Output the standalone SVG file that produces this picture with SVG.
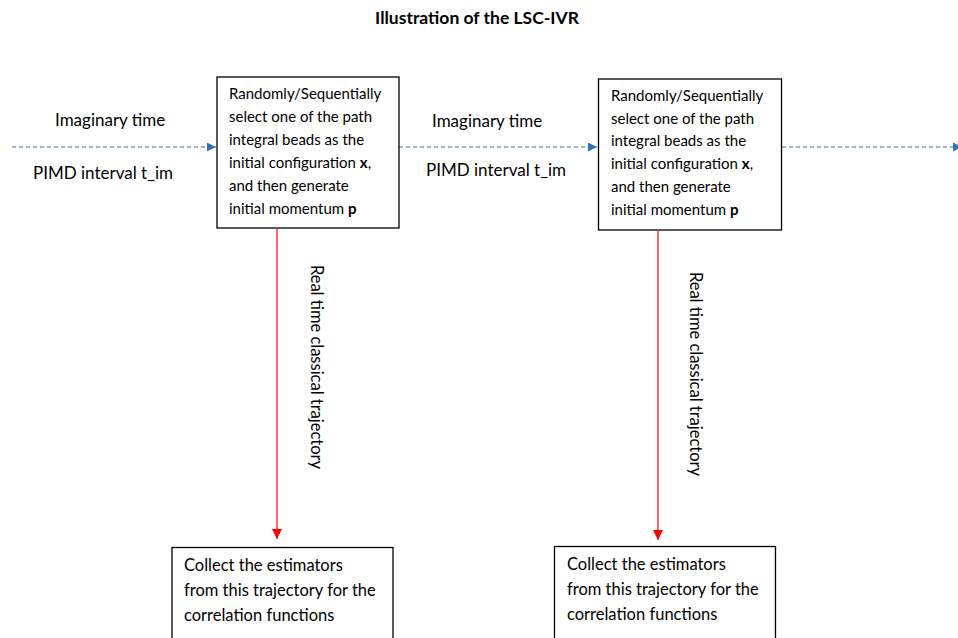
<svg xmlns="http://www.w3.org/2000/svg" width="958" height="638" viewBox="0 0 958 638">
<defs>
<style>
text{font-family:Lato,"Liberation Sans",sans-serif;font-size:15px;fill:#000}
.title{font-weight:bold;font-size:17.5px}
.lbl{font-size:17px}
.bot{font-size:16.5px}
.b{font-weight:bold}
.box{fill:#fff;stroke:#000;stroke-width:1.3}
.dash{stroke:#2E75B6;stroke-width:1.2;stroke-dasharray:4 3;fill:none}
.red{stroke:#FF0000;stroke-width:1.2;fill:none}
</style>
<marker id="ab" viewBox="0 0 10 10" refX="10" refY="5" markerWidth="9" markerHeight="9" markerUnits="userSpaceOnUse" orient="auto">
<path d="M0,0 L10,5 L0,10 z" fill="#2E75B6"/>
</marker>
<marker id="ar" viewBox="0 0 10 10" refX="10" refY="5" markerWidth="10" markerHeight="10" markerUnits="userSpaceOnUse" orient="auto">
<path d="M0,0 L10,5 L0,10 z" fill="#FF0000"/>
</marker>
</defs>
<rect width="958" height="638" fill="#fff"/>
<text class="title" x="477" y="24" text-anchor="middle">Illustration of the LSC-IVR</text>

<g id="connectors">
<line class="dash" x1="12" y1="147" x2="216" y2="147" marker-end="url(#ab)"/>
<line class="dash" x1="399" y1="147" x2="597" y2="147" marker-end="url(#ab)"/>
<line class="dash" x1="782" y1="147" x2="962" y2="147" marker-end="url(#ab)"/>
<line class="red" x1="277" y1="229" x2="277" y2="539" marker-end="url(#ar)"/>
<line class="red" x1="658" y1="231" x2="658" y2="540" marker-end="url(#ar)"/>
<text class="lbl" x="55" y="126">Imaginary time</text>
<text class="lbl" x="33" y="179">PIMD interval t_im</text>
<text class="lbl" x="432" y="127">Imaginary time</text>
<text class="lbl" x="426" y="176">PIMD interval t_im</text>
<text class="bot" transform="translate(311,367) rotate(90)" text-anchor="middle">Real time classical trajectory</text>
<text class="bot" transform="translate(690,374) rotate(90)" text-anchor="middle">Real time classical trajectory</text>
</g>

<g id="select1">
<rect class="box" x="217" y="77" width="182" height="151"/>
<text x="229" y="99">Randomly/Sequentially</text>
<text x="229" y="122">select one of the path</text>
<text x="229" y="145">integral beads as the</text>
<text x="229" y="168">initial configuration <tspan class="b">x</tspan>,</text>
<text x="229" y="191">and then generate</text>
<text x="229" y="214">initial momentum <tspan class="b">p</tspan></text>
</g>

<g id="select2">
<rect class="box" x="598.5" y="79" width="183" height="151"/>
<text x="611" y="101">Randomly/Sequentially</text>
<text x="611" y="124">select one of the path</text>
<text x="611" y="146">integral beads as the</text>
<text x="611" y="169">initial configuration <tspan class="b">x</tspan>,</text>
<text x="611" y="192">and then generate</text>
<text x="611" y="215">initial momentum <tspan class="b">p</tspan></text>
</g>

<g id="collect1">
<rect class="box" x="172" y="547.5" width="221" height="100"/>
<text class="bot" x="184" y="571">Collect the estimators</text>
<text class="bot" x="184" y="596">from this trajectory for the</text>
<text class="bot" x="184" y="621">correlation functions</text>
</g>

<g id="collect2">
<rect class="box" x="554.5" y="546.5" width="221" height="100"/>
<text class="bot" x="567" y="570">Collect the estimators</text>
<text class="bot" x="567" y="595">from this trajectory for the</text>
<text class="bot" x="567" y="620">correlation functions</text>
</g>
</svg>
